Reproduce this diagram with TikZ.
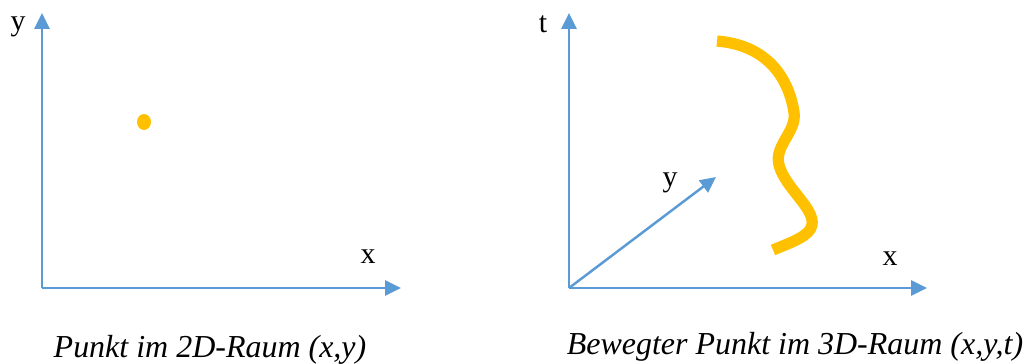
\documentclass[tikz,border=0pt]{standalone}
\usepackage{fontspec}
\setmainfont{Liberation Serif}
\usepackage{xcolor}
\usetikzlibrary{arrows.meta}
\definecolor{axisblue}{HTML}{5B9BD5}
\definecolor{pathyellow}{HTML}{FFC000}

\begin{document}
\begin{tikzpicture}[x=0.02cm,y=-0.02cm,>={Triangle[length=9pt,width=8.5pt]},
  axis/.style={axisblue,line width=1.4pt,->},
  lbl/.style={anchor=base,inner sep=0pt,font=\fontsize{17}{20}\selectfont},
  caption/.style={anchor=base,inner sep=0pt,font=\fontsize{18.2}{21}\selectfont\itshape}]
\useasboundingbox (0,0) rectangle (1029,363);
% left: point in 2D
\coordinate (oA) at (42,288);
\coordinate (yA) at (42,13);
\coordinate (xA) at (401,288);
\draw[axis] (oA) -- (yA);
\draw[axis] (oA) -- (xA);
\node[lbl] (ylA) at (18,30) {y};
\node[lbl] (xlA) at (368,263) {x};
\fill[pathyellow] (144,122) ellipse (7 and 8);
\node[caption] (capA) at (210,357) {Punkt im 2D-Raum (x,y)};
% right: moving point in 3D
\coordinate (oB) at (569,288);
\coordinate (tB) at (569,13);
\coordinate (xB) at (927,288);
\coordinate (yB) at (716,177);
\draw[axis] (oB) -- (tB);
\draw[axis] (oB) -- (xB);
\draw[axis] (oB) -- (yB);
\node[lbl] (tlB) at (543,32) {t};
\node[lbl] (ylB) at (670,186) {y};
\node[lbl] (xlB) at (890,265) {x};
\draw[pathyellow,line width=6.4pt] (717,41) .. controls (765,45) and (788,75) .. (794,112)
  .. controls (797,132) and (774,145) .. (779,165)
  .. controls (785,188) and (815,208) .. (812,225)
  .. controls (810,236) and (792,242) .. (773,250);
\node[caption] (capB) at (795,354) {Bewegter Punkt im 3D-Raum (x,y,t)};
\end{tikzpicture}
\end{document}
